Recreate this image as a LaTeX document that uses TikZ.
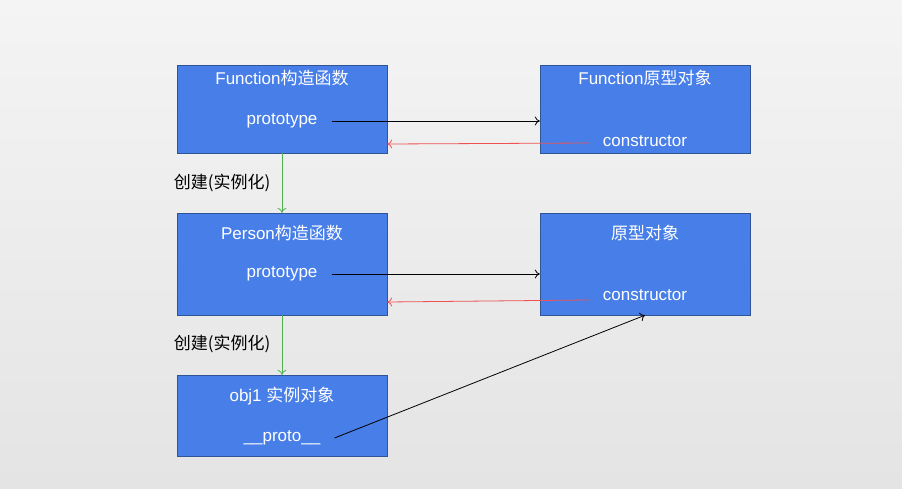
\documentclass[tikz,border=0pt]{standalone}
\usepackage{fontspec}
\setmainfont{Liberation Sans}
\newfontfamily\cjk{Noto Sans CJK SC}
\usetikzlibrary{arrows.meta}
\definecolor{boxblue}{RGB}{72,126,232}
\definecolor{boxline}{RGB}{47,85,151}
\definecolor{bgtop}{RGB}{244,244,244}
\definecolor{bgbot}{RGB}{228,228,228}
\definecolor{ctorred}{RGB}{238,82,82}
\definecolor{newgreen}{RGB}{80,176,80}
\tikzset{
	obj/.style={draw=boxline, fill=boxblue, minimum width=210pt, inner sep=0pt},
	txt/.style={text=white, font=\fontsize{17}{20}\selectfont, inner ysep=0pt, inner xsep=0pt},
	slot/.style={txt, inner xsep=14pt},
	lbl/.style={font=\cjk\fontsize{17}{20}\selectfont, inner sep=0pt},
	link/.style={-{To[length=5pt,width=9pt]}, line width=0.8pt},
}
\begin{document}
\begin{tikzpicture}[x=1pt, y=-1pt]
			\shade[top color=bgtop, bottom color=bgbot] (0,0) rectangle (902,488);
			\node[obj, minimum height=88pt] (FnCtor) at (282,109) {};
			\node[obj, minimum height=88pt] (FnObj) at (645,109) {};
			\node[obj, minimum height=102pt] (PCtor) at (282,264) {};
			\node[obj, minimum height=102pt] (PObj) at (645,264) {};
			\node[obj, minimum height=81pt] (Inst) at (282,415.5) {};
			\node[txt] (FnCtorT) at (282,78) {Function{\cjk 构造函数}};
			\node[slot] (FnProto) at (282,121) {prototype};
			\node[txt] (FnObjT) at (645,78) {Function{\cjk 原型对象}};
			\node[slot] (FnCons) at (645,141) {constructor};
			\node[txt] (PCtorT) at (282,233) {Person{\cjk 构造函数}};
			\node[slot] (PProto) at (282,274) {prototype};
			\node[txt] (PObjT) at (645,233) {{\cjk 原型对象}};
			\node[slot] (PCons) at (645,295) {constructor};
			\node[txt] (InstT) at (282,396) {obj1 {\cjk 实例对象}};
			\node[slot] (InstProto) at (282,438) {\_\_proto\_\_};
			\node[lbl] (NewP) at (222,183) {创建(实例化)};
			\node[lbl] (NewI) at (222,344) {创建(实例化)};
			\path[link]
			(FnProto) edge (FnProto -| FnObj.west)
			([yshift=-2pt]FnCons.west) edge [ctorred] ([yshift=-3pt]FnCons.west -| FnCtor.east)
			(PProto) edge (PProto -| PObj.west)
			([yshift=-5pt]PCons.west) edge [ctorred] ([yshift=-7pt]PCons.west -| PCtor.east)
			(FnCtor) edge [newgreen] (PCtor)
			(PCtor) edge [newgreen] (Inst)
			(InstProto.east) edge (PCons |- PObj.south);
		\end{tikzpicture}
\end{document}
